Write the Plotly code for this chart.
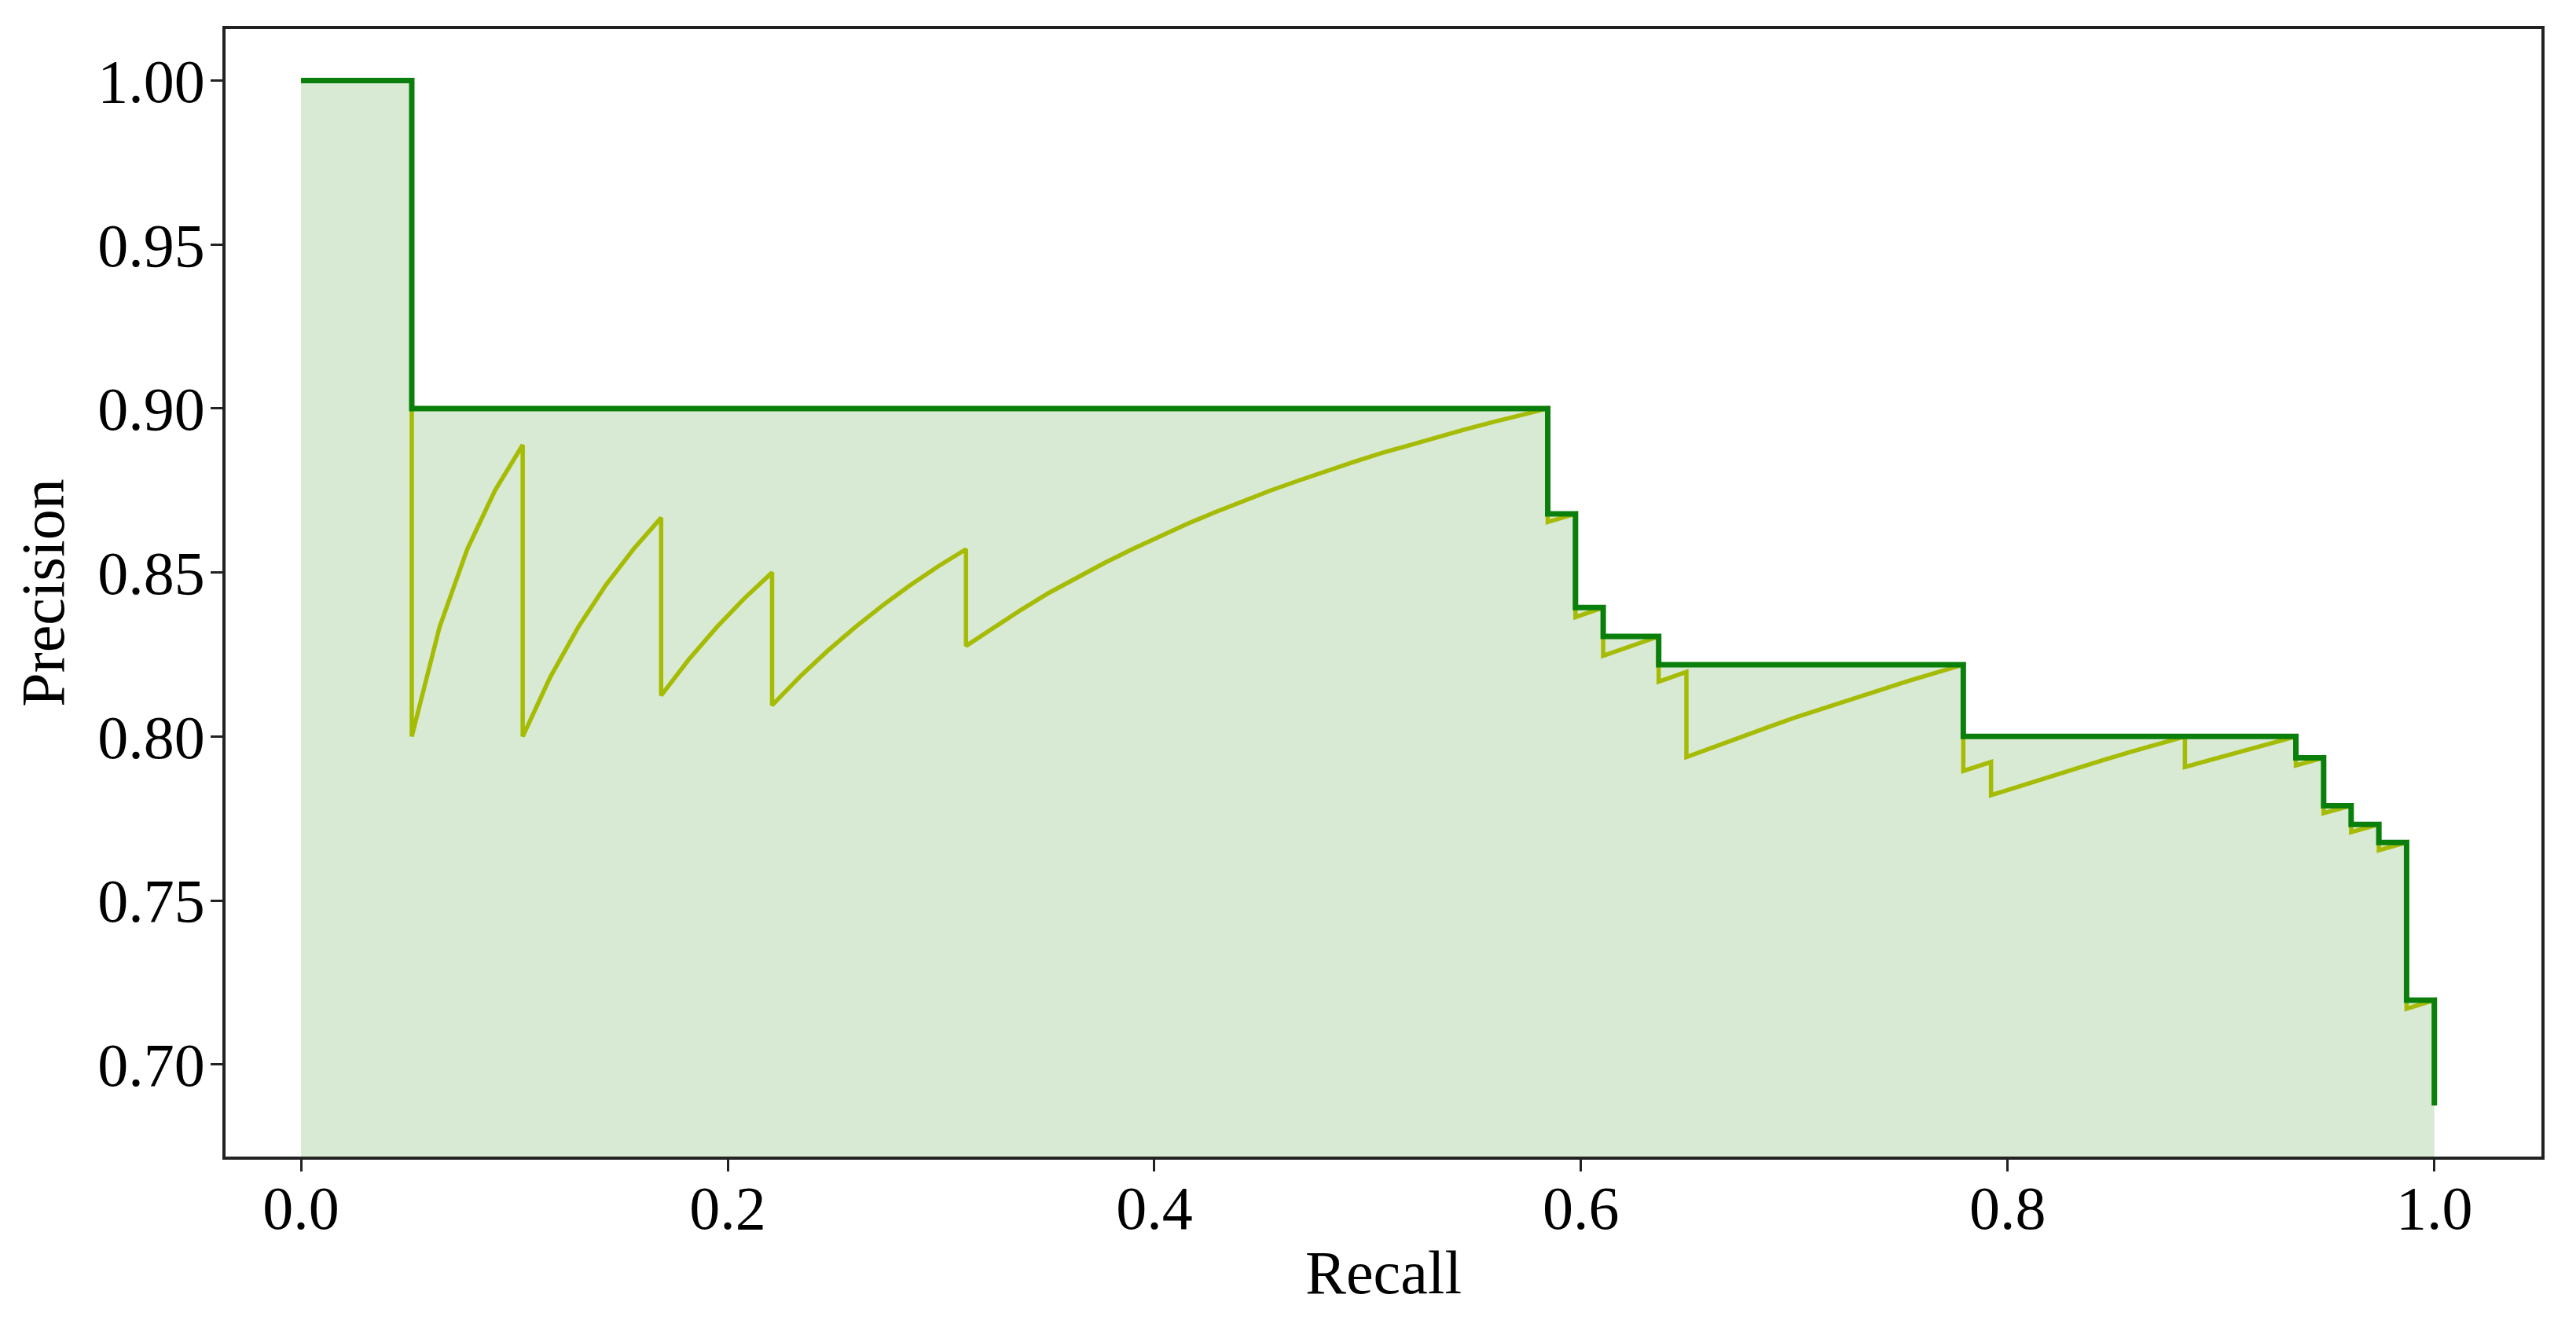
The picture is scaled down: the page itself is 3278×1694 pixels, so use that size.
import plotly.graph_objects as go

# Raw precision-recall points
raw_recall = [
    0.0, 0.0130, 0.0260, 0.0390, 0.0519,
    0.0519, 0.0649, 0.0779, 0.0909, 0.1039,
    0.1039, 0.1169, 0.1299, 0.1429, 0.1558, 0.1688,
    0.1688, 0.1818, 0.1948, 0.2078, 0.2208,
    0.2208, 0.2338, 0.2468, 0.2597, 0.2727, 0.2857, 0.2987, 0.3117,
    0.3117, 0.3247, 0.3377, 0.3506, 0.3636, 0.3766, 0.3896, 0.4026, 0.4156,
    0.4286, 0.4416, 0.4545, 0.4675, 0.4805, 0.4935, 0.5065, 0.5195, 0.5325,
    0.5455, 0.5584, 0.5714, 0.5844,
    0.5844, 0.5974,
    0.5974, 0.6104,
    0.6104, 0.6234, 0.6364,
    0.6364, 0.6494,
    0.6494, 0.6623, 0.6753, 0.6883, 0.7013, 0.7143, 0.7273, 0.7403, 0.7532,
    0.7662, 0.7792,
    0.7792, 0.7922,
    0.7922, 0.8052, 0.8182, 0.8312, 0.8442, 0.8571, 0.8701, 0.8831,
    0.8831, 0.8961, 0.9091, 0.9221, 0.9351,
    0.9351, 0.9481,
    0.9481, 0.9610,
    0.9610, 0.9740,
    0.9740, 0.9870,
    0.9870, 1.0,
    1.0,
]
raw_precision = [
    1.0, 1.0, 1.0, 1.0, 1.0,
    0.8000, 0.8333, 0.8571, 0.8750, 0.8889,
    0.8000, 0.8182, 0.8333, 0.8462, 0.8571, 0.8667,
    0.8125, 0.8235, 0.8333, 0.8421, 0.8500,
    0.8095, 0.8182, 0.8261, 0.8333, 0.8400, 0.8462, 0.8519, 0.8571,
    0.8276, 0.8333, 0.8387, 0.8438, 0.8485, 0.8529, 0.8571, 0.8611, 0.8649,
    0.8684, 0.8718, 0.8750, 0.8780, 0.8810, 0.8837, 0.8864, 0.8889, 0.8913,
    0.8936, 0.8958, 0.8980, 0.9000,
    0.8654, 0.8679,
    0.8364, 0.8393,
    0.8246, 0.8276, 0.8305,
    0.8167, 0.8197,
    0.7937, 0.7969, 0.8000, 0.8030, 0.8060, 0.8088, 0.8116, 0.8143, 0.8169,
    0.8194, 0.8219,
    0.7895, 0.7922,
    0.7821, 0.7848, 0.7875, 0.7901, 0.7927, 0.7952, 0.7976, 0.8000,
    0.7907, 0.7931, 0.7955, 0.7978, 0.8000,
    0.7912, 0.7935,
    0.7766, 0.7789,
    0.7708, 0.7732,
    0.7653, 0.7677,
    0.7170, 0.7196,
    0.6875,
]

# Interpolated (step) precision vertices
step_recall = [0.0, 0.0519, 0.5844, 0.5974, 0.6104, 0.6364, 0.7792,
               0.9351, 0.9481, 0.9610, 0.9740, 0.9870, 1.0]
step_precision = [1.0, 0.9000, 0.8679, 0.8393, 0.8305, 0.8219, 0.8000,
                  0.7935, 0.7789, 0.7732, 0.7677, 0.7196, 0.6875]

x_ticks = [0.0, 0.2, 0.4, 0.6, 0.8, 1.0]
x_tick_text = ["0.0", "0.2", "0.4", "0.6", "0.8", "1.0"]
y_ticks = [0.70, 0.75, 0.80, 0.85, 0.90, 0.95, 1.00]
y_tick_text = ["0.70", "0.75", "0.80", "0.85", "0.90", "0.95", "1.00"]

FONT = "Liberation Serif, Times New Roman, serif"

fig = go.Figure()
fig.add_trace(go.Scatter(
    x=step_recall, y=step_precision, mode="lines", line_shape="hv",
    line=dict(width=0, color="rgba(0,0,0,0)"),
    fill="tozeroy", fillcolor="rgb(216,234,211)", hoverinfo="skip",
    showlegend=False,
))
fig.add_trace(go.Scatter(
    x=raw_recall, y=raw_precision, mode="lines",
    line=dict(color="#a6bb04", width=5.5),
    showlegend=False,
))
fig.add_trace(go.Scatter(
    x=step_recall, y=step_precision, mode="lines", line_shape="hv",
    line=dict(color="#0b7f0b", width=7),
    showlegend=False,
))

axis_common = dict(
    showgrid=False, zeroline=False, showline=True, mirror=True,
    linecolor="#222222", linewidth=3.5,
    ticks="outside", ticklen=15, tickwidth=3, tickcolor="#222222",
    tickfont=dict(family=FONT, size=78, color="black"),
)

fig.update_layout(
    width=3270, height=1686,
    margin=dict(l=279, r=44, t=29, b=222),
    paper_bgcolor="white", plot_bgcolor="white",
    font=dict(family=FONT, color="black"),
    xaxis=dict(
        range=[-0.0354, 1.0502], tickvals=x_ticks, ticktext=x_tick_text,
        ticklabelstandoff=-20,
        title=dict(text="Recall", font=dict(family=FONT, size=78), standoff=12),
        **axis_common,
    ),
    yaxis=dict(
        range=[0.6719, 1.0157], tickvals=y_ticks, ticktext=y_tick_text,
        ticklabelstandoff=-8,
        title=dict(text="Precision", font=dict(family=FONT, size=78), standoff=18),
        **axis_common,
    ),
)

fig.write_html("out.html")
